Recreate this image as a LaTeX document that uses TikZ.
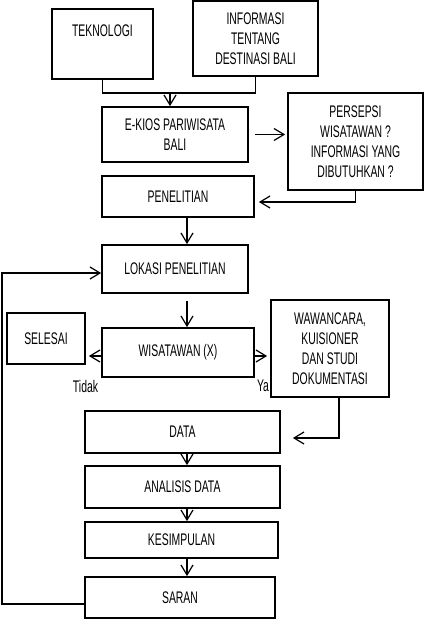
\documentclass[tikz,border=0pt]{standalone}
\usepackage{fontspec}
\setmainfont[FakeStretch=0.62]{Liberation Sans}
\usetikzlibrary{arrows.meta}
\tikzset{
	action/.style={rectangle, draw, line width=0.9pt, align=center, inner sep=1pt, font=\fontsize{8.4}{10}\selectfont},
	answer/.style={inner sep=0pt, font=\fontsize{8.4}{10}\selectfont},
	link/.style={draw, line width=0.6pt},
	arrow/.style={draw, -{Straight Barb[length=5pt,width=6pt]}, line width=0.6pt}
}
\begin{document}
\begin{tikzpicture}[x=0.5pt, y=-0.5pt]
\useasboundingbox (0,0) rectangle (424,619);
\coordinate (axis) at (187,0);

\node[action, minimum width=50.5pt, text height=13pt, text depth=20pt] (tek) at (102.5,44) {TEKNOLOGI};
\node[action, minimum width=62.5pt, minimum height=37.5pt] (info) at (255.5,38.5)
	{INFORMASI\\TENTANG\\DESTINASI BALI};

\node[action, minimum width=73pt, minimum height=27.5pt] (ekios) at (175,134.5)
	{E-KIOS PARIWISATA\\BALI};
\node[action, minimum width=67.5pt, minimum height=48.5pt] (persepsi) at (355.5,141.5)
	{PERSEPSI\\WISATAWAN ?\\INFORMASI YANG\\DIBUTUHKAN ?};

\node[action, minimum width=76pt, minimum height=20.5pt] (penelitian) at (178,196.5) {PENELITIAN};
\node[action, minimum width=73pt, minimum height=24pt] (lokasi) at (175,269) {LOKASI PENELITIAN};

\node[action, minimum width=39pt, minimum height=25.5pt] (selesai) at (46,338.5) {SELESAI};
\node[action, minimum width=76pt, minimum height=24.5pt] (wisatawan) at (178,352.5) {WISATAWAN (X)};
\node[action, minimum width=59pt, minimum height=48.5pt] (wawancara) at (330,348.5)
	{WAWANCARA,\\KUISIONER\\DAN STUDI\\DOKUMENTASI};

\node[answer] (tidak) at (85.5,386) {Tidak};
\node[answer] (ya) at (263,386) {Ya};

\node[action, minimum width=97.5pt, minimum height=21pt] (data) at (182.5,432) {DATA};
\node[action, minimum width=97.5pt, minimum height=21pt] (analisis) at (182.5,487) {ANALISIS DATA};
\node[action, minimum width=96.5pt, minimum height=18pt] (kesimpulan) at (181.5,540) {KESIMPULAN};
\node[action, minimum width=95pt, minimum height=20.5pt] (saran) at (180,597.5) {SARAN};

\coordinate (join) at (170,93);
\draw [link] (tek.south) |- (join) -| (info.south);
\draw [arrow] (join) -- (join |- ekios.north);

\draw [arrow, shorten <=3pt, shorten >=1pt] (ekios.east) -- (ekios.east -| persepsi.west);
\draw [arrow] (persepsi.south) |- ([xshift=2pt, yshift=-2.75pt]penelitian.east);

\draw [arrow] (penelitian.south -| axis) -- (lokasi.north -| axis);
\draw [arrow, shorten <=3.5pt] (lokasi.south -| axis) -- (wisatawan.north -| axis);

\draw [arrow, shorten >=1.5pt] ([yshift=-1.75pt]wisatawan.west) -- ([yshift=-1.75pt]wisatawan.west -| selesai.east);
\draw [arrow, shorten >=1.5pt] ([yshift=-1.75pt]wisatawan.east) -- ([yshift=-1.75pt]wisatawan.east -| wawancara.west);

\draw [arrow] ([xshift=4.5pt]wawancara.south) |- ([xshift=6pt, yshift=-3pt]data.east);

\draw [arrow] (data.south -| axis) -- (analisis.north -| axis);
\draw [arrow] (analisis.south -| axis) -- (kesimpulan.north -| axis);
\draw [arrow] (kesimpulan.south -| axis) -- (saran.north -| axis);

\coordinate (back) at (2,604);
\draw [arrow] (saran.west |- back) -- (back) |- ([yshift=-2pt]lokasi.west);

\end{tikzpicture}
\end{document}
